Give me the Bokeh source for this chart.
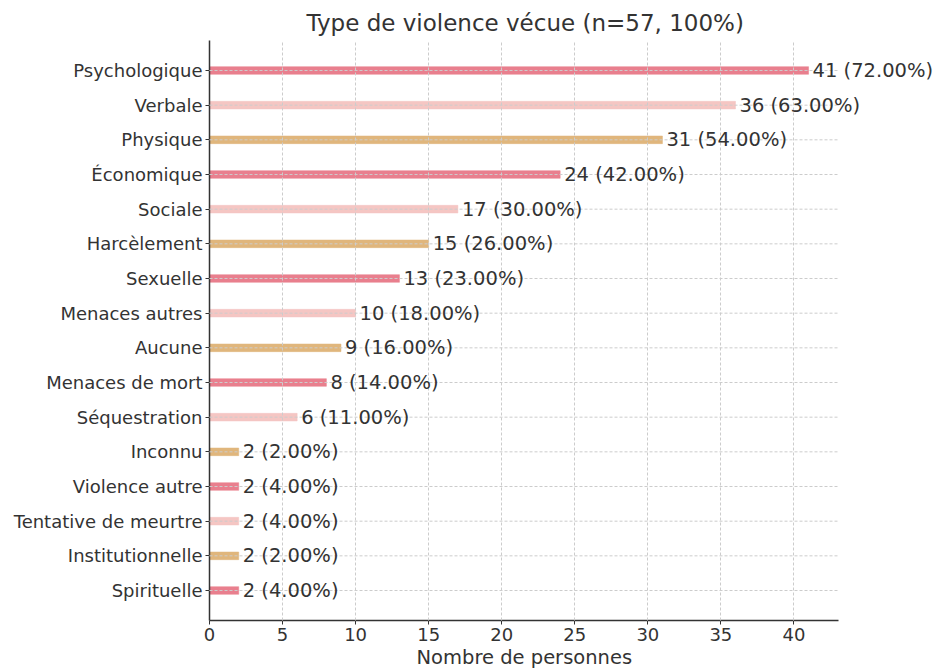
from bokeh.plotting import figure
from bokeh.models import ColumnDataSource, FactorRange, Range1d, FixedTicker, LabelSet, Title
from bokeh.core.properties import value
from bokeh.embed import file_html
from bokeh.resources import INLINE

categories = ["Psychologique", "Verbale", "Physique", "Économique", "Sociale",
              "Harcèlement", "Sexuelle", "Menaces autres", "Aucune",
              "Menaces de mort", "Séquestration", "Inconnu", "Violence autre",
              "Tentative de meurtre", "Institutionnelle", "Spirituelle"]
counts = [41, 36, 31, 24, 17, 15, 13, 10, 9, 8, 6, 2, 2, 2, 2, 2]
percents = ["72.00", "63.00", "54.00", "42.00", "30.00", "26.00", "23.00",
            "18.00", "16.00", "14.00", "11.00", "2.00", "4.00", "4.00",
            "2.00", "4.00"]
palette = ["#E97F8E", "#F5C6C3", "#E0B67C"]
x_ticks = [0, 5, 10, 15, 20, 25, 30, 35, 40]
x_max = 43.05

FONT = "DejaVu Sans"
TXT = "#333333"

W, H = 940, 668
LEFT, AXIS_RIGHT, TOP = 209, 838, 40
frame_w = W - LEFT
x_end = x_max * frame_w / (AXIS_RIGHT - LEFT)

colors = [palette[i % 3] for i in range(len(categories))]
labels = [f"{c} ({p}%)" for c, p in zip(counts, percents)]
src = ColumnDataSource(dict(cat=categories, n=counts, color=colors, label=labels,
                            x0=[0] * len(categories), x1=[x_max] * len(categories)))

p = figure(width=W, height=H, output_backend="svg", toolbar_location=None,
           y_range=FactorRange(factors=categories[::-1], range_padding=0.365,
                               range_padding_units="absolute"),
           x_range=Range1d(0, x_end),
           min_border_left=LEFT, min_border_right=0, min_border_top=TOP,
           min_border_bottom=0)

p.title.text = "Type de violence vécue (n=57, 100%)"
p.title.align = "left"
p.title.offset = 97
p.title.text_font = FONT
p.title.text_font_size = "23px"
p.title.text_font_style = "normal"
p.title.text_color = TXT

xlabel = Title(text="Nombre de personnes", align="left", offset=207,
               text_font=FONT, text_font_size="19.5px", text_font_style="normal",
               text_color=TXT, standoff=0)
p.add_layout(xlabel, "below")

# horizontal dashed grid lines limited to the axis extent
p.segment(x0="x0", x1="x1", y0="cat", y1="cat", source=src,
          line_color="#cccccc", line_dash="3 2", line_width=1, level="annotation")

p.hbar(y="cat", right="n", left=0, height=0.22, color="color", line_color="color",
       line_alpha=0.5, source=src)
p.add_layout(LabelSet(x="n", y="cat", text="label", source=src, x_offset=4,
                      text_baseline="middle", text_align="left",
                      text_font=value(FONT), text_font_size=value("19.5px"),
                      text_color=TXT))

p.xaxis.ticker = FixedTicker(ticks=x_ticks)
p.xaxis.bounds = (0, x_max)
for ax in (p.xaxis, p.yaxis):
    ax.major_label_text_font = FONT
    ax.major_label_text_font_size = "18px"
    ax.major_label_text_color = TXT
    ax.axis_line_color = "#333333"
    ax.axis_line_width = 1.5
    ax.major_tick_line_color = "#333333"
    ax.major_tick_out = 4
    ax.major_tick_in = 0
    ax.minor_tick_line_color = None
    ax.major_label_standoff = 3

p.ygrid.grid_line_color = None
p.xgrid.grid_line_color = "#cccccc"
p.xgrid.grid_line_dash = "3 2"
p.xgrid.grid_line_width = 1
p.xgrid.level = "annotation"

p.outline_line_color = None
p.background_fill_color = "white"
p.border_fill_color = "white"

open("out.html", "w").write(file_html(p, INLINE))
